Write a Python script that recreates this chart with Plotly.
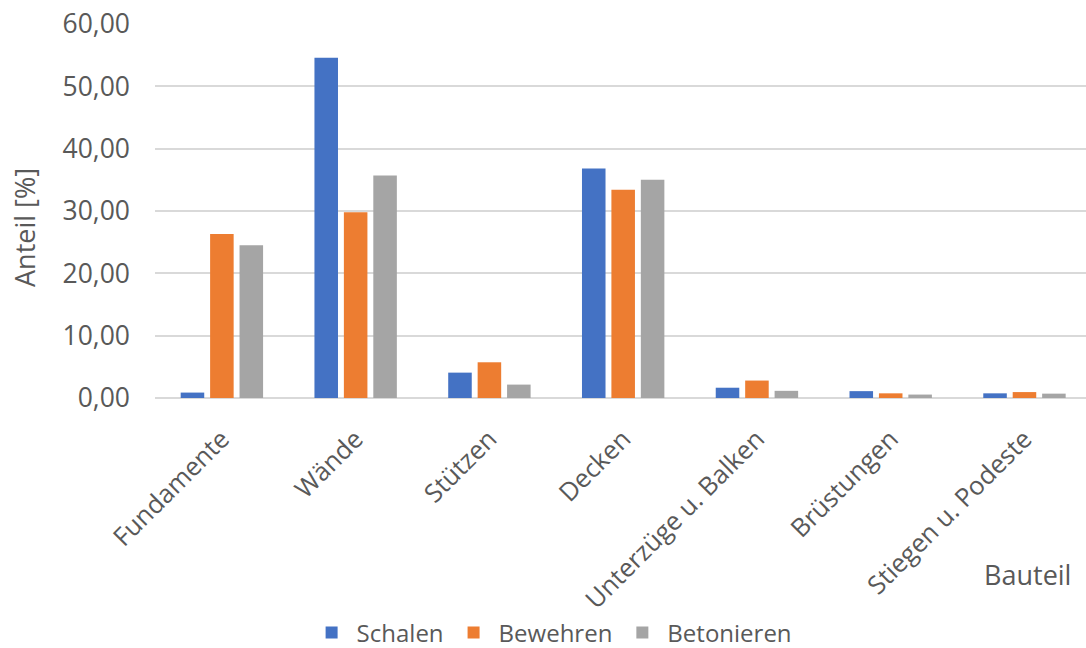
import plotly.graph_objects as go

categories = ["Fundamente", "Wände", "Stützen", "Decken", "Unterzüge u. Balken", "Brüstungen", "Stiegen u. Podeste"]
schalen = [0.87, 54.6, 4.07, 36.8, 1.65, 1.1, 0.75]
bewehren = [26.3, 29.8, 5.73, 33.4, 2.8, 0.75, 0.95]
betonieren = [24.5, 35.7, 2.15, 35.0, 1.15, 0.55, 0.7]
series_names = ["Schalen", "Bewehren", "Betonieren"]
colors = ["#4472C4", "#ED7D31", "#A5A5A5"]
y_ticks = [0, 10, 20, 30, 40, 50, 60]

FONT = "Open Sans"
TXT = "#595959"

fig = go.Figure()
for name, vals, col in zip(series_names, [schalen, bewehren, betonieren], colors):
    fig.add_trace(go.Bar(x=categories, y=vals, name=name, marker=dict(color=col, line=dict(width=0))))

W, H = 1086, 648
L, R, T, B = 155, 0, 24, 250
fig.update_layout(
    width=W, height=H,
    margin=dict(l=L, r=R, t=T, b=B, autoexpand=False),
    paper_bgcolor="white", plot_bgcolor="white",
    separators=",.",
    barmode="group", bargap=0.34, bargroupgap=0.2,
    font=dict(family=FONT, size=24, color=TXT),
    showlegend=True,
    legend=dict(orientation="h", x=0.426, xanchor="center", y=-0.628, yanchor="middle",
                font=dict(size=24, color=TXT), itemwidth=40, traceorder="normal"),
    xaxis=dict(range=[-0.5, 6.46], tickangle=-45, showgrid=False, showline=False, ticks="",
               automargin=False, ticklabelstandoff=20, tickfont=dict(size=25.5, color=TXT)),
    yaxis=dict(range=[0, 60], tickvals=y_ticks, tickformat=".2f", showgrid=True,
               gridcolor="#D9D9D9", gridwidth=1.5, zeroline=True, zerolinecolor="#D9D9D9",
               zerolinewidth=1.5, showline=False, ticks="", ticklabelstandoff=24,
               automargin=False, tickfont=dict(size=26.5, color=TXT)),
    annotations=[
        dict(text="Anteil [%]", xref="paper", yref="paper", x=(25 - L) / (W - L - R),
             y=(H - B - 228) / (H - T - B), textangle=-90, showarrow=False,
             xanchor="center", yanchor="middle", font=dict(size=27, color=TXT)),
        dict(text="Bauteil", xref="paper", yref="paper", x=(1073 - L) / (W - L - R),
             y=(H - B - 574) / (H - T - B), showarrow=False,
             xanchor="right", yanchor="middle", font=dict(size=27, color=TXT)),
    ],
)
fig.write_html("out.html")
